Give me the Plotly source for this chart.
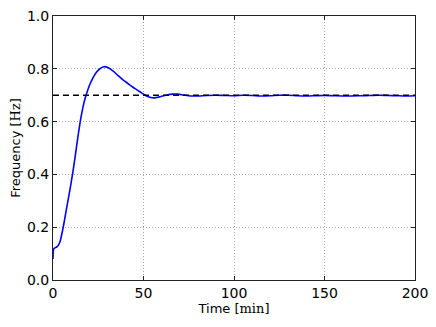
import plotly.graph_objects as go

# Time in minutes and measured frequency in Hz
time_min = [0, 0.4, 1, 2, 3, 4, 5, 6, 7, 8, 9, 10, 11, 12, 13, 14, 15, 16, 17, 18,
            20, 22, 24, 26, 28, 30, 32, 34, 36, 38, 40, 42, 44, 46, 48, 50, 52, 54,
            56, 58, 60, 63, 66, 69, 72, 76, 80, 85, 90, 95, 100, 105, 110, 115, 120,
            125, 130, 135, 140, 145, 150, 155, 160, 165, 170, 175, 180, 185, 190,
            195, 200]
freq_hz = [0.08, 0.118, 0.122, 0.125, 0.132, 0.148, 0.178, 0.213, 0.252, 0.29, 0.328,
           0.368, 0.41, 0.456, 0.505, 0.553, 0.598, 0.636, 0.668, 0.694,
           0.735, 0.765, 0.787, 0.801, 0.808, 0.806, 0.798, 0.787, 0.774, 0.762,
           0.751, 0.741, 0.731, 0.722, 0.713, 0.704, 0.696, 0.691, 0.690, 0.692,
           0.696, 0.701, 0.704, 0.704, 0.701, 0.697, 0.697, 0.699, 0.700, 0.699,
           0.698, 0.700, 0.699, 0.697, 0.698, 0.700, 0.700, 0.698, 0.697, 0.698,
           0.699, 0.698, 0.697, 0.697, 0.698, 0.699, 0.700, 0.699, 0.698, 0.697,
           0.698]

target_x = [0, 200]
target_y = [0.7, 0.7]

x_ticks = [0, 50, 100, 150, 200]
y_ticks = [0.0, 0.2, 0.4, 0.6, 0.8, 1.0]

fig = go.Figure()

fig.add_trace(
    go.Scatter(
        x=time_min,
        y=freq_hz,
        mode="lines",
        line=dict(color="#0000ff", width=1.6, shape="spline", smoothing=0.8),
    )
)

fig.add_trace(
    go.Scatter(
        x=target_x,
        y=target_y,
        mode="lines",
        line=dict(color="black", width=1.5, dash="6px,4px"),
    )
)

axis_style = dict(
    showline=True,
    linecolor="#222222",
    linewidth=1,
    mirror="ticks",
    ticks="inside",
    ticklen=4,
    tickcolor="#222222",
    showgrid=True,
    gridcolor="#a8a8a8",
    gridwidth=0.8,
    griddash="1px,2px",
    zeroline=False,
    automargin=False,
    ticklabeloverflow="allow",
    tickfont=dict(family="DejaVu Sans", size=14, color="black"),
)

# page body has an 8px margin, so the figure is 8px smaller than the window
fig.update_layout(
    width=428,
    height=319,
    margin=dict(l=45, r=21, t=8, b=47),
    paper_bgcolor="white",
    plot_bgcolor="white",
    showlegend=False,
    font=dict(family="DejaVu Sans", size=14, color="black"),
    xaxis=dict(
        axis_style,
        range=[0, 200],
        tickvals=x_ticks,
        title=dict(
            text="Time [<span style='font-family:DejaVu Serif'>min</span>]",
            standoff=4,
            font=dict(size=13),
        ),
    ),
    yaxis=dict(
        axis_style,
        range=[0, 1],
        tickvals=y_ticks,
        tickformat=".1f",
        title=dict(
            text="Frequency [<span style='font-family:DejaVu Serif'>Hz</span>]",
            standoff=8,
            font=dict(size=13),
        ),
    ),
)

fig.write_html("out.html")
